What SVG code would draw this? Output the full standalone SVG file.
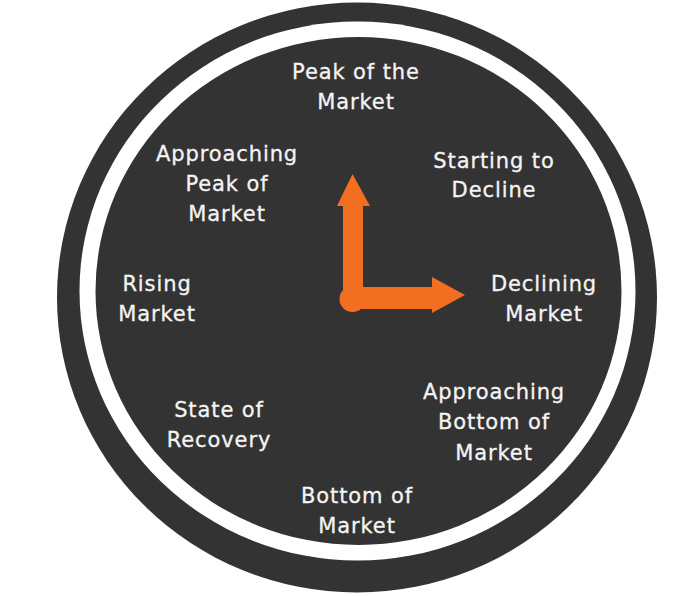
<svg xmlns="http://www.w3.org/2000/svg" width="695" height="596" viewBox="0 0 695 596">
<style>
.dark{fill:#333333}
.ring{fill:#ffffff}
.arrow{fill:#F26F21}
.lbl{font-family:"DejaVu Sans","Liberation Sans",sans-serif;font-size:21px;fill:#f4f4f4;stroke:#f4f4f4;stroke-width:0.3px;text-anchor:middle;letter-spacing:0.9px}
</style>
<rect x="0" y="0" width="695" height="596" fill="#ffffff"/>
<g id="dial">
<ellipse class="dark" cx="357" cy="297.5" rx="300" ry="295"/>
<ellipse class="ring" cx="357.5" cy="291" rx="278" ry="269.5"/>
<ellipse class="dark" cx="358.5" cy="291" rx="263" ry="254"/>
</g>
<g id="connectors">
<path class="arrow" d="M343,300 L343,206 L337,206 L352.5,174 L370,206 L363,206 L363,300 Z"/>
<path class="arrow" d="M352,287 L432,287 L432,277 L465,295 L432,313 L432,309 L352,309 Z"/>
<circle class="arrow" cx="352.5" cy="299" r="13"/>
</g>
<g id="peak"><text class="lbl" x="356" y="79">Peak of the</text><text class="lbl" x="356" y="109">Market</text></g>
<g id="starting-decline"><text class="lbl" x="494" y="168">Starting to</text><text class="lbl" x="494" y="197">Decline</text></g>
<g id="approaching-peak"><text class="lbl" x="227" y="161">Approaching</text><text class="lbl" x="227" y="191">Peak of</text><text class="lbl" x="227" y="221">Market</text></g>
<g id="rising"><text class="lbl" x="157" y="291">Rising</text><text class="lbl" x="157" y="321">Market</text></g>
<g id="declining"><text class="lbl" x="544" y="291">Declining</text><text class="lbl" x="544" y="321">Market</text></g>
<g id="approaching-bottom"><text class="lbl" x="494" y="399">Approaching</text><text class="lbl" x="494" y="429">Bottom of</text><text class="lbl" x="494" y="460">Market</text></g>
<g id="recovery"><text class="lbl" x="219" y="417">State of</text><text class="lbl" x="219" y="447">Recovery</text></g>
<g id="bottom"><text class="lbl" x="357" y="503">Bottom of</text><text class="lbl" x="357" y="533">Market</text></g>
</svg>
